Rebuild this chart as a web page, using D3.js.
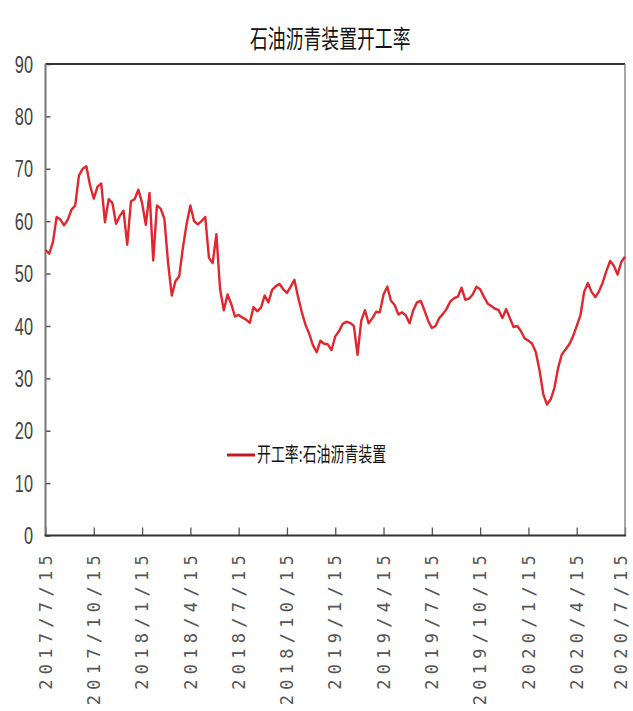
<!DOCTYPE html>
<html>
<head>
<meta charset="utf-8">
<script src="https://cdn.jsdelivr.net/npm/d3@7"></script>
<style>
  html, body { margin: 0; padding: 0; background: #fff; }
  svg { display: block; }
</style>
</head>
<body>
<svg id="chart" width="633" height="711"></svg>
<script>
// Weekly operating rate of petroleum asphalt units (%)
const chartTitle = "石油沥青装置开工率";
const seriesName = "开工率:石油沥青装置";

const rateValues = [
  54.5, 53.8, 56.0, 60.8, 60.3, 59.2, 60.3, 62.2, 63.0, 68.7,
  70.0, 70.5, 66.8, 64.3, 66.6, 67.2, 59.8, 64.2, 63.5, 59.5,
  61.0, 62.0, 55.5, 63.8, 64.2, 66.0, 63.5, 59.3, 65.4, 52.5,
  63.0, 62.4, 60.5, 52.0, 45.8, 48.6, 49.5, 55.0, 59.5, 63.0,
  60.0, 59.4, 60.0, 60.8, 53.0, 52.0, 57.5, 47.0, 43.0, 46.0,
  44.2, 41.8, 42.1, 41.6, 41.2, 40.6, 43.6, 42.8, 43.5, 45.8,
  44.5, 46.9, 47.6, 48.0, 47.0, 46.3, 47.5, 48.8, 45.5, 42.6,
  40.2, 38.5, 36.3, 35.0, 37.2, 36.6, 36.5, 35.4, 38.0, 39.0,
  40.4, 40.8, 40.6, 40.0, 34.5, 41.0, 43.0, 40.5, 41.5, 42.7,
  42.6, 46.0, 47.5, 44.8, 44.0, 42.2, 42.6, 42.0, 40.5, 43.0,
  44.5, 44.8, 43.0, 41.0, 39.6, 40.0, 41.5, 42.3, 43.3, 44.7,
  45.3, 45.6, 47.3, 45.0, 45.2, 46.0, 47.5, 47.0, 45.6, 44.3,
  43.8, 43.3, 43.0, 41.5, 43.2, 41.5, 39.8, 40.0, 39.0, 37.6,
  37.2, 36.6, 35.0, 31.5, 27.0, 25.0, 26.0, 28.2, 32.0, 34.6,
  35.5, 36.5, 38.0, 40.0, 42.0, 46.5, 48.2, 46.5, 45.5, 46.6,
  48.3, 50.5, 52.4, 51.5, 49.8, 52.2, 53.2
];

// Date labels, one every 13 weeks
const xTickLabels = [
  "2017/7/15", "2017/10/15", "2018/1/15", "2018/4/15", "2018/7/15",
  "2018/10/15", "2019/1/15", "2019/4/15", "2019/7/15", "2019/10/15",
  "2020/1/15", "2020/4/15", "2020/7/15"
];
const weeksPerTick = 13;
const yTicks = [0, 10, 20, 30, 40, 50, 60, 70, 80, 90];

const svg = d3.select("#chart");
const plot = { left: 45.5, right: 625, top: 64, bottom: 535.5 };

const x = d3.scaleLinear()
  .domain([0, rateValues.length - 1])
  .range([plot.left, plot.right]);
const y = d3.scaleLinear()
  .domain([0, 90])
  .range([plot.bottom, plot.top]);

const cjk = "'Noto Sans CJK SC', 'Noto Sans', sans-serif";

// Title (condensed)
svg.append("text")
  .attr("transform", `translate(${(plot.left + plot.right) / 2 - 5},48) scale(0.7,1)`)
  .attr("text-anchor", "middle")
  .attr("font-family", cjk)
  .attr("font-size", 25.5)
  .attr("fill", "#111")
  .text(chartTitle);

// Y axis: inward ticks, condensed labels
const yAxis = d3.axisLeft(y).tickValues(yTicks).tickSize(-5).tickFormat("");
const yg = svg.append("g")
  .attr("transform", `translate(${plot.left},0)`)
  .call(yAxis);
yg.select(".domain").remove();
yg.selectAll(".tick line").attr("stroke", "#555").attr("stroke-width", 1.5);

svg.append("g").selectAll("text")
  .data(yTicks)
  .join("text")
  .attr("transform", d => `translate(33,${y(d)}) scale(0.68,1)`)
  .attr("text-anchor", "end")
  .attr("dy", "0.36em")
  .attr("font-family", "'Liberation Sans', Arial, sans-serif")
  .attr("font-size", 24)
  .attr("fill", "#444")
  .text(d => d);

// X axis: inward ticks every 13 weeks
const xTickVals = xTickLabels.map((_, i) => i * weeksPerTick);
const xAxis = d3.axisBottom(x).tickValues(xTickVals).tickSize(-8).tickFormat("");
const xg = svg.append("g")
  .attr("transform", `translate(0,${plot.bottom})`)
  .call(xAxis);
xg.select(".domain").remove();
xg.selectAll(".tick line").attr("stroke", "#555").attr("stroke-width", 1.3);

// Rotated date labels; keep the last one inside the page edge
svg.append("g").selectAll("text")
  .data(xTickLabels)
  .join("text")
  .attr("transform", (d, i) => `translate(${Math.min(x(xTickVals[i]), 621)},550) rotate(-90)`)
  .attr("text-anchor", "end")
  .attr("dy", "0.36em")
  .attr("font-family", "'DejaVu Sans Mono', 'Liberation Mono', monospace")
  .attr("font-size", 17)
  .attr("letter-spacing", 5.3)
  .attr("fill", "#555")
  .text(d => d);

// Frame around plot
svg.append("line")
  .attr("x1", plot.left).attr("x2", plot.right)
  .attr("y1", plot.top).attr("y2", plot.top)
  .attr("stroke", "#333").attr("stroke-width", 2);
svg.append("line")
  .attr("x1", plot.left).attr("x2", plot.left)
  .attr("y1", plot.top).attr("y2", plot.bottom)
  .attr("stroke", "#777").attr("stroke-width", 2);
svg.append("line")
  .attr("x1", plot.right).attr("x2", plot.right)
  .attr("y1", plot.top).attr("y2", plot.bottom)
  .attr("stroke", "#888").attr("stroke-width", 1.5);
svg.append("line")
  .attr("x1", plot.left - 1).attr("x2", plot.right + 1)
  .attr("y1", plot.bottom).attr("y2", plot.bottom)
  .attr("stroke", "#333").attr("stroke-width", 2);

// Series line
const line = d3.line()
  .x((d, i) => x(i))
  .y(d => y(d));
svg.append("path")
  .datum(rateValues)
  .attr("fill", "none")
  .attr("stroke", "#e3262e")
  .attr("stroke-width", 2.4)
  .attr("stroke-linejoin", "round")
  .attr("d", line);

// Legend
const legend = svg.append("g").attr("transform", "translate(227,455)");
legend.append("line")
  .attr("x1", 0).attr("x2", 28)
  .attr("stroke", "#c8161e").attr("stroke-width", 3);
legend.append("text")
  .attr("transform", "translate(30,0) scale(0.68,1)")
  .attr("dy", "0.36em")
  .attr("font-family", cjk)
  .attr("font-size", 20.5)
  .attr("fill", "#111")
  .text(seriesName);
</script>
</body>
</html>
